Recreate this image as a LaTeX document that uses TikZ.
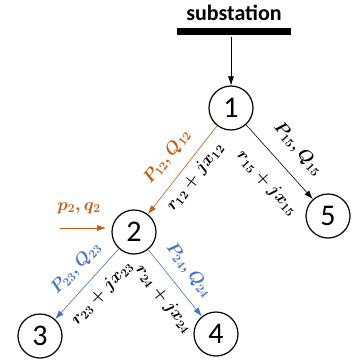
\documentclass[tikz,border=0pt]{standalone}
\usepackage{fontspec}
\setmainfont{Carlito}
\usetikzlibrary{arrows.meta}
\definecolor{ora}{HTML}{C55A11}
\definecolor{blu}{HTML}{4472C4}
\begin{document}
\begin{tikzpicture}[x=1pt,y=-1pt,
  bus/.style={circle,draw,line width=1.2pt,minimum size=44pt,inner sep=0pt,font=\fontsize{30}{32}\selectfont},
  edge/.style={-{Latex[length=9pt,width=6pt]},line width=0.6pt},
  lab/.style={font=\fontsize{18}{20}\selectfont\boldmath,inner sep=0pt}]
\useasboundingbox (0,0) rectangle (354,364);
\node[font=\fontsize{22}{24}\selectfont\bfseries] (sub) at (234,13) {substation};
\node[fill=black,minimum width=114pt,minimum height=7pt,inner sep=0pt] (bar) at (234,31.5) {};
\node[bus] (n1) at (231,108) {1};
\node[bus] (n2) at (134,232) {2};
\node[bus] (n3) at (40,336) {3};
\node[bus] (n4) at (216,334) {4};
\node[bus] (n5) at (328,216) {5};
\draw[edge] ([yshift=-2pt]bar.south -| n1) -- (n1);
\draw[edge,ora] (n1) -- (n2);
\draw[edge] (n1) -- (n5);
\draw[edge,blu] (n2) -- (n3);
\draw[edge,blu] (n2) -- (n4);
\node[lab,ora,rotate=52] (l12a) at (167,157) {$P_{12}, Q_{12}$};
\node[lab,rotate=52] (l12b) at (195,177) {$r_{12}+jx_{12}$};
\node[lab,rotate=-48] (l15a) at (298,149) {$P_{15}, Q_{15}$};
\node[lab,rotate=-48] (l15b) at (267,183) {$r_{15}+jx_{15}$};
\node[lab,blu,rotate=47] (l23a) at (76,268) {$P_{23}, Q_{23}$};
\node[lab,rotate=47] (l23b) at (102,293) {$r_{23}+jx_{23}$};
\node[lab,blu,rotate=-52] (l24a) at (189,270) {$P_{24}, Q_{24}$};
\node[lab,rotate=-52] (l24b) at (164,299) {$r_{24}+jx_{24}$};
\coordinate (pq) at (60,228);
\coordinate (pqe) at (106,228);
\draw[edge,ora] (pq) -- (pqe);
\node[lab,ora] (pql) at (79,208) {$p_2, q_2$};
\end{tikzpicture}
\end{document}
